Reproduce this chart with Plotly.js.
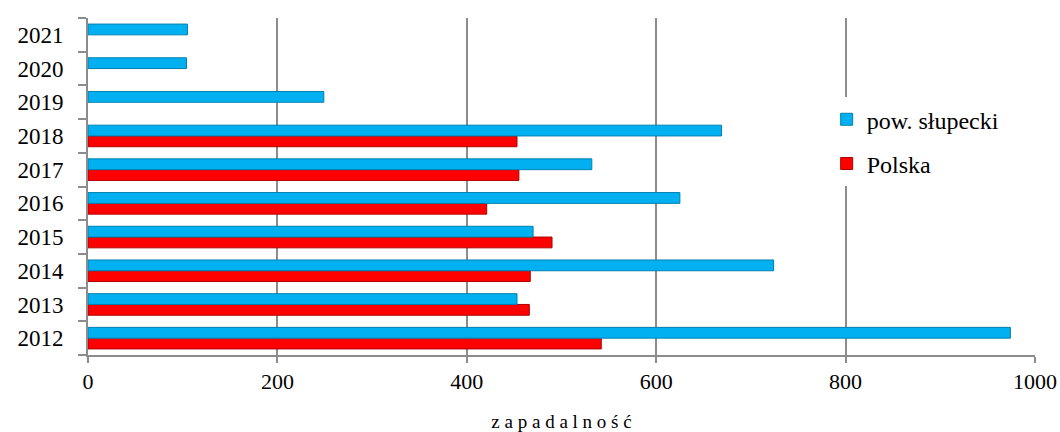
<!DOCTYPE html>
<html><head><meta charset="utf-8">
<script src="https://cdn.plot.ly/plotly-3.0.1.min.js"></script>
<style>html,body{margin:0;padding:0;background:#fff}#c{width:1060px;height:432px}</style>
</head><body><div id="c"></div>
<script>
const years = ['2012','2013','2014','2015','2016','2017','2018','2019','2020','2021'];
const slupecki = [974, 453, 724, 470, 625, 532, 669, 249, 104, 105];
const polska = [542, 466, 467, 490, 421, 455, 453, null, null, null];
const seriesNames = ['pow. słupecki', 'Polska'];
const xTicks = [0, 200, 400, 600, 800, 1000];

const serif = '"Liberation Serif", "Times New Roman", serif';
const traces = [
  {type:'bar', orientation:'h', name:seriesNames[1], y:years, x:polska, legendgroup:'b', legendrank:2,
   marker:{color:'#FF0000', line:{color:'#B00000', width:1}}},
  {type:'bar', orientation:'h', name:seriesNames[0], y:years, x:slupecki, legendgroup:'a', legendrank:1,
   marker:{color:'#00B0F0', line:{color:'#0080B0', width:1}}}
];
const layout = {
  width:1060, height:432,
  font:{family:serif, color:'#000'},
  margin:{l:88, r:25, t:18, b:77},
  paper_bgcolor:'#fff', plot_bgcolor:'#fff',
  barmode:'group', bargap:0.36, bargroupgap:0,
  showlegend:true,
  legend:{x:0.78, y:0.765, xanchor:'left', yanchor:'top', traceorder:'grouped',
    font:{family:serif, size:24, color:'#000'}, tracegroupgap:10, itemwidth:30,
    bgcolor:'#ffffff'},
  xaxis:{range:[0,1000], tickvals:xTicks, ticktext:xTicks.map(String),
    showgrid:true, gridcolor:'#8c8c8c', gridwidth:2,
    showline:true, linecolor:'#8c8c8c', linewidth:2,
    ticks:'outside', tickcolor:'#8c8c8c', ticklen:6, tickwidth:2,
    tickfont:{family:serif, size:22, color:'#000'}, zeroline:false,
    title:{text:'z a p a d a l n o ś ć', font:{family:serif, size:19, color:'#000'}, standoff:22}},
  yaxis:{type:'category', showgrid:false, showline:true, linecolor:'#8c8c8c', linewidth:2,
    ticks:'outside', tickson:'boundaries', tickcolor:'#8c8c8c', ticklen:8, tickwidth:2,
    tickfont:{family:serif, size:23, color:'#000'}, ticklabelstandoff:18}
};
Plotly.newPlot('c', traces, layout, {displayModeBar:false, staticPlot:true});
</script></body></html>
